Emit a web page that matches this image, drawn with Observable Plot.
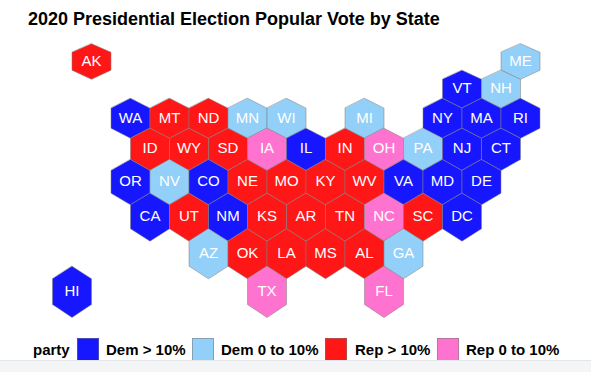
<!DOCTYPE html>
<html>
<head>
<meta charset="utf-8">
<script src="https://cdn.jsdelivr.net/npm/d3@7"></script>
<script src="https://cdn.jsdelivr.net/npm/@observablehq/plot@0.6"></script>
<style>
  html, body { margin: 0; padding: 0; background: #fff; overflow: hidden; }
  body { width: 591px; height: 372px; position: relative; font-family: "Liberation Sans", Arial, sans-serif; color: #000; }
  #title { position: absolute; left: 28px; top: 9px; font-size: 18px; font-weight: bold; line-height: 21px; white-space: nowrap; }
  #chart { position: absolute; left: 0; top: 36px; }
  #chart svg { display: block; }
  #legend { position: absolute; left: 0; top: 338px; width: 591px; height: 22px; font-size: 15px; font-weight: bold; line-height: 24px; overflow: hidden; }
  #legend span { position: absolute; top: 0; white-space: nowrap; }
  #legend i { position: absolute; top: 0; width: 22px; height: 24px; box-sizing: border-box; border: 1px solid rgba(120,120,120,0.55); }
  #foot { position: absolute; left: 0; top: 360px; width: 591px; height: 12px; background: #f4f5f7; border-top: 1px solid #e3e5e8; box-sizing: border-box; }
</style>
</head>
<body>
<div id="title"></div>
<div id="chart"></div>
<div id="legend"></div>
<div id="foot"></div>
<script>
const titleText = "2020 Presidential Election Popular Vote by State";
const partyTitle = "party";
const partyLabels = ["Dem > 10%", "Dem 0 to 10%", "Rep > 10%", "Rep 0 to 10%"];
const partyColors = ["#1616ff", "#92d0f9", "#ff1616", "#ff73d0"];

const states = ["ME","AK","VT","NH","WA","MT","ND","MN","WI","MI","NY","MA","RI",
  "ID","WY","SD","IA","IL","IN","OH","PA","NJ","CT",
  "OR","NV","CO","NE","MO","KY","WV","VA","MD","DE",
  "CA","UT","NM","KS","AR","TN","NC","SC","DC",
  "AZ","OK","LA","MS","AL","GA","TX","FL","HI"];
const cols = [20,-2,17,19,0,2,4,6,8,12,16,18,20,
  1,3,5,7,9,11,13,15,17,19,
  0,2,4,6,8,10,12,14,16,18,
  1,3,5,7,9,11,13,15,17,
  4,6,8,10,12,14,7,13,-3];
const rows = [0,0,1,1,2,2,2,2,2,2,2,2,2,
  3,3,3,3,3,3,3,3,3,3,
  4,4,4,4,4,4,4,4,4,4,
  5,5,5,5,5,5,5,5,5,
  6,6,6,6,6,6,7,7,7];
const parties = [1,2,0,1,0,2,2,1,1,1,0,0,0,
  2,2,2,3,0,2,3,1,0,0,
  0,1,0,2,2,2,2,0,0,0,
  0,2,0,2,2,2,3,2,0,
  1,2,2,2,2,1,3,3,0];

// The map's rows are not evenly spaced: they widen towards the south.
const rowSpacing = d3.scaleLinear([-1, 0, 1, 2, 3, 4, 5, 6, 7, 8],
                                  [34.5, 60.5, 88, 117.5, 148, 181, 216, 253, 291, 330]);

const cells = states.map((state, i) => ({state, col: cols[i], row: rowSpacing(rows[i]), party: partyLabels[parties[i]]}));
const hexCorners = [[0,-2/3],[1,-1/3],[1,1/3],[0,2/3],[-1,1/3],[-1,-1/3]];
const outline = states.flatMap((state, i) => hexCorners.map(([dx, dy]) => ({
  state, party: partyLabels[parties[i]], col: cols[i] + dx, row: rowSpacing(rows[i] + dy)
})));

const chart = Plot.plot({
  width: 591,
  height: 302,
  margin: 0,
  x: {domain: [0, 20], range: [130, 520], axis: null},
  y: {domain: [36, 338], range: [0, 302], axis: null},
  color: {type: "ordinal", domain: partyLabels, range: partyColors},
  marks: [
    Plot.line(outline, {x: "col", y: "row", z: "state", fill: "party", stroke: "#808080", strokeWidth: 0.7, strokeOpacity: 0.75, curve: "linear-closed"}),
    Plot.text(cells, {x: "col", y: "row", text: "state", fill: "white", fontSize: 15, fontFamily: "Liberation Sans, Arial, sans-serif"})
  ]
});
document.getElementById("chart").appendChild(chart);
document.getElementById("title").textContent = titleText;

const legend = document.getElementById("legend");
const add = (tag, left, text, color) => {
  const el = document.createElement(tag);
  el.style.left = left + "px";
  if (text) el.textContent = text;
  if (color) el.style.background = color;
  legend.appendChild(el);
};
add("span", 33, partyTitle);
const swatchLeft = [77, 192, 325, 437];
const labelLeft = [106, 221, 355, 466];
partyLabels.forEach((label, i) => {
  add("i", swatchLeft[i], null, partyColors[i]);
  add("span", labelLeft[i], label);
});
</script>
</body>
</html>
